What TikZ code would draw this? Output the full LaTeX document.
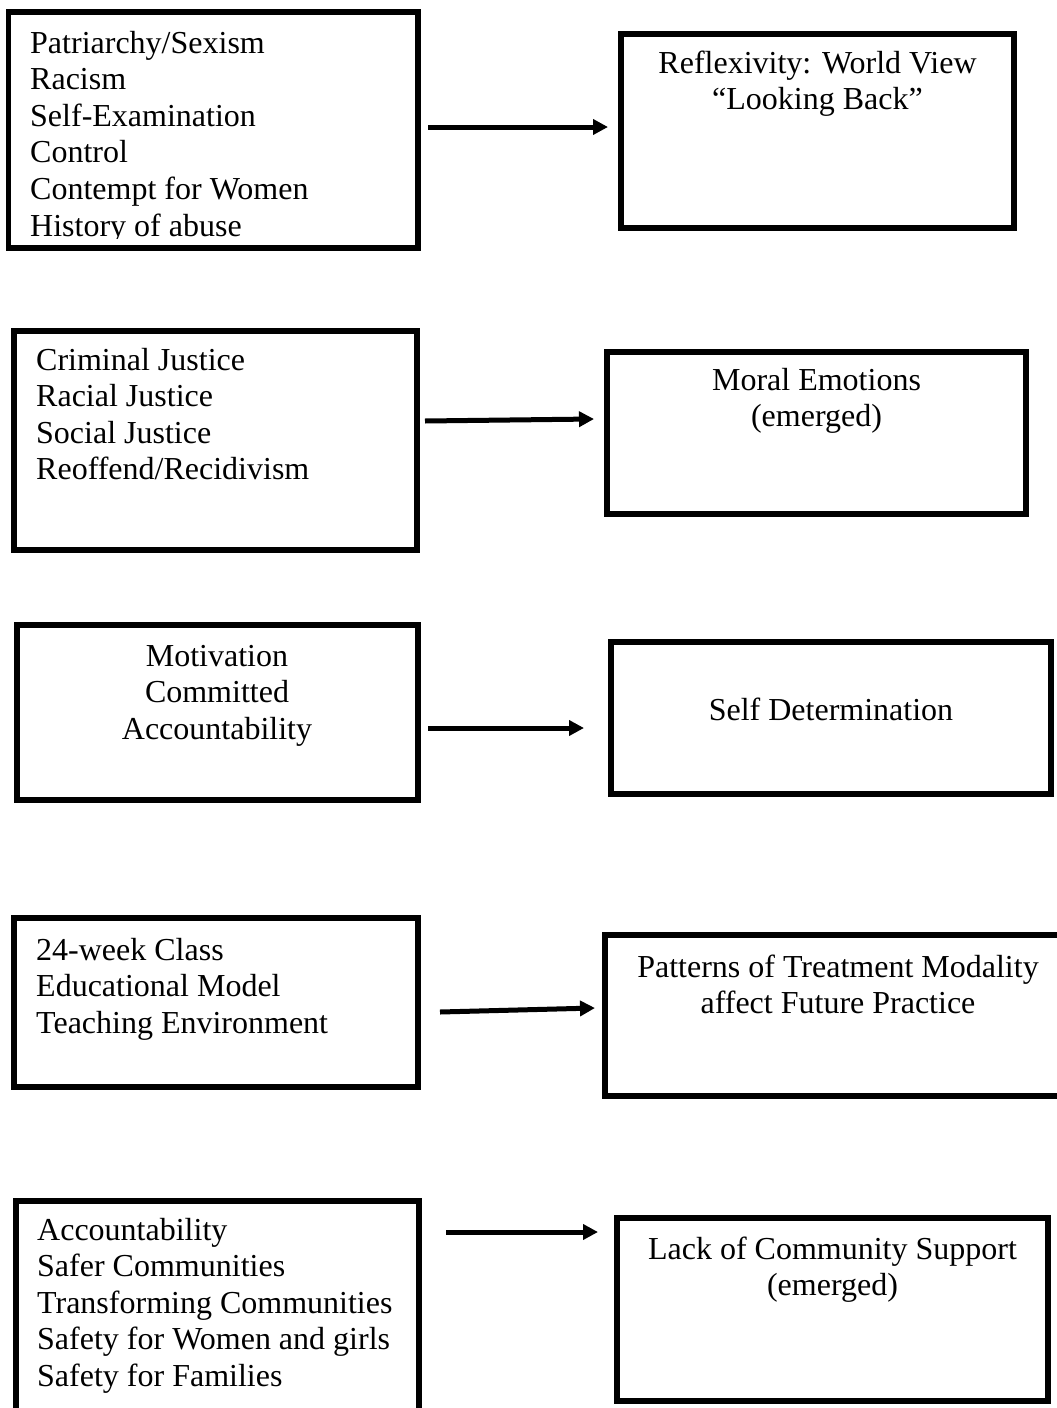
\documentclass[tikz,border=0pt]{standalone}
\usepackage{fontspec}
\setmainfont{Liberation Serif}
\usetikzlibrary{arrows.meta}
\tikzset{
  box/.style={draw, line width=5.5pt, outer sep=0pt, inner sep=0pt},
  txt/.style={inner sep=0pt, font=\fontsize{32}{36.6}\selectfont},
  ltxt/.style={txt, anchor=base west},
  ctxt/.style={txt, anchor=base},
  conn/.style={line width=5pt, -{Triangle[length=15pt,width=15pt]}}
}
\begin{document}
\begin{tikzpicture}[x=1pt,y=-1pt]
\clip (0,0) rectangle (1057,1408);
\fill[white] (0,0) rectangle (1057,1408);

% Row 1
\node[box, minimum width=409.5pt, minimum height=236pt] (L1) at (213.25,130) {};
\node[box, minimum width=393pt, minimum height=194pt] (R1) at (817.5,131) {};
\begin{scope}
  \clip (8.5,12) rectangle (418,238);
  \foreach \s [count=\i] in {Patriarchy/Sexism, Racism, Self-Examination, Control, Contempt for Women, History of abuse}
    \node[ltxt] (ta\i) at (30,{53+36.6*(\i-1)}) {\s};
\end{scope}
\node[ctxt] (ra1) at (817.5,73) {Reflexivity: World View};
\node[ctxt] (ra2) at (817.5,109.6) {“Looking Back”};
\draw[conn] ([xshift=10pt,yshift=3pt]L1.east) -- ([xshift=-13pt,yshift=4pt]R1.west);

% Row 2
\node[box, minimum width=403pt, minimum height=219pt] (L2) at (215.5,440.5) {};
\node[box, minimum width=419pt, minimum height=162pt] (R2) at (816.5,433) {};
\foreach \s [count=\i] in {Criminal Justice, Racial Justice, Social Justice, Reoffend/Recidivism}
  \node[ltxt] (tb\i) at (36,{370+36.6*(\i-1)}) {\s};
\node[ctxt] (rb1) at (816.5,390) {Moral Emotions};
\node[ctxt] (rb2) at (816.5,426.6) {(emerged)};
\draw[conn] ([xshift=8pt,yshift=19.5pt]L2.east) -- ([xshift=-13pt,yshift=14pt]R2.west);

% Row 3
\node[box, minimum width=401pt, minimum height=175pt] (L3) at (217.5,712.5) {};
\node[box, minimum width=440pt, minimum height=152pt] (R3) at (831,718) {};
\foreach \s [count=\i] in {Motivation, Committed, Accountability}
  \node[ctxt] (tc\i) at (217,{666+36.6*(\i-1)}) {\s};
\node[ctxt] (rc1) at (831,720) {Self Determination};
\draw[conn] ([xshift=10pt,yshift=-15.5pt]L3.east) -- ([xshift=-27pt,yshift=-10pt]R3.west);

% Row 4
\node[box, minimum width=404pt, minimum height=169pt] (L4) at (216,1002.5) {};
\node[box, minimum width=460pt, minimum height=161pt] (R4) at (835,1015.5) {};
\foreach \s [count=\i] in {24-week Class, Educational Model, Teaching Environment}
  \node[ltxt] (td\i) at (36,{960+36.6*(\i-1)}) {\s};
\node[ctxt] (rd1) at (838,977) {Patterns of Treatment Modality};
\node[ctxt] (rd2) at (838,1013.6) {affect Future Practice};
\draw[conn] ([xshift=22pt,yshift=-9.5pt]L4.east) -- ([xshift=-10pt,yshift=7.5pt]R4.west);

% Row 5
\node[box, minimum width=403pt, minimum height=224pt] (L5) at (217.5,1313) {};
\node[box, minimum width=431pt, minimum height=183pt] (R5) at (832.5,1309.5) {};
\foreach \s [count=\i] in {Accountability, Safer Communities, Transforming Communities, Safety for Women and girls, Safety for Families}
  \node[ltxt] (te\i) at (37,{1240+36.6*(\i-1)}) {\s};
\node[ctxt] (re1) at (832.5,1259) {Lack of Community Support};
\node[ctxt] (re2) at (832.5,1295.6) {(emerged)};
\draw[conn] ([xshift=27pt,yshift=81pt]L5.east) -- ([xshift=-19pt,yshift=77.5pt]R5.west);
\end{tikzpicture}
\end{document}
